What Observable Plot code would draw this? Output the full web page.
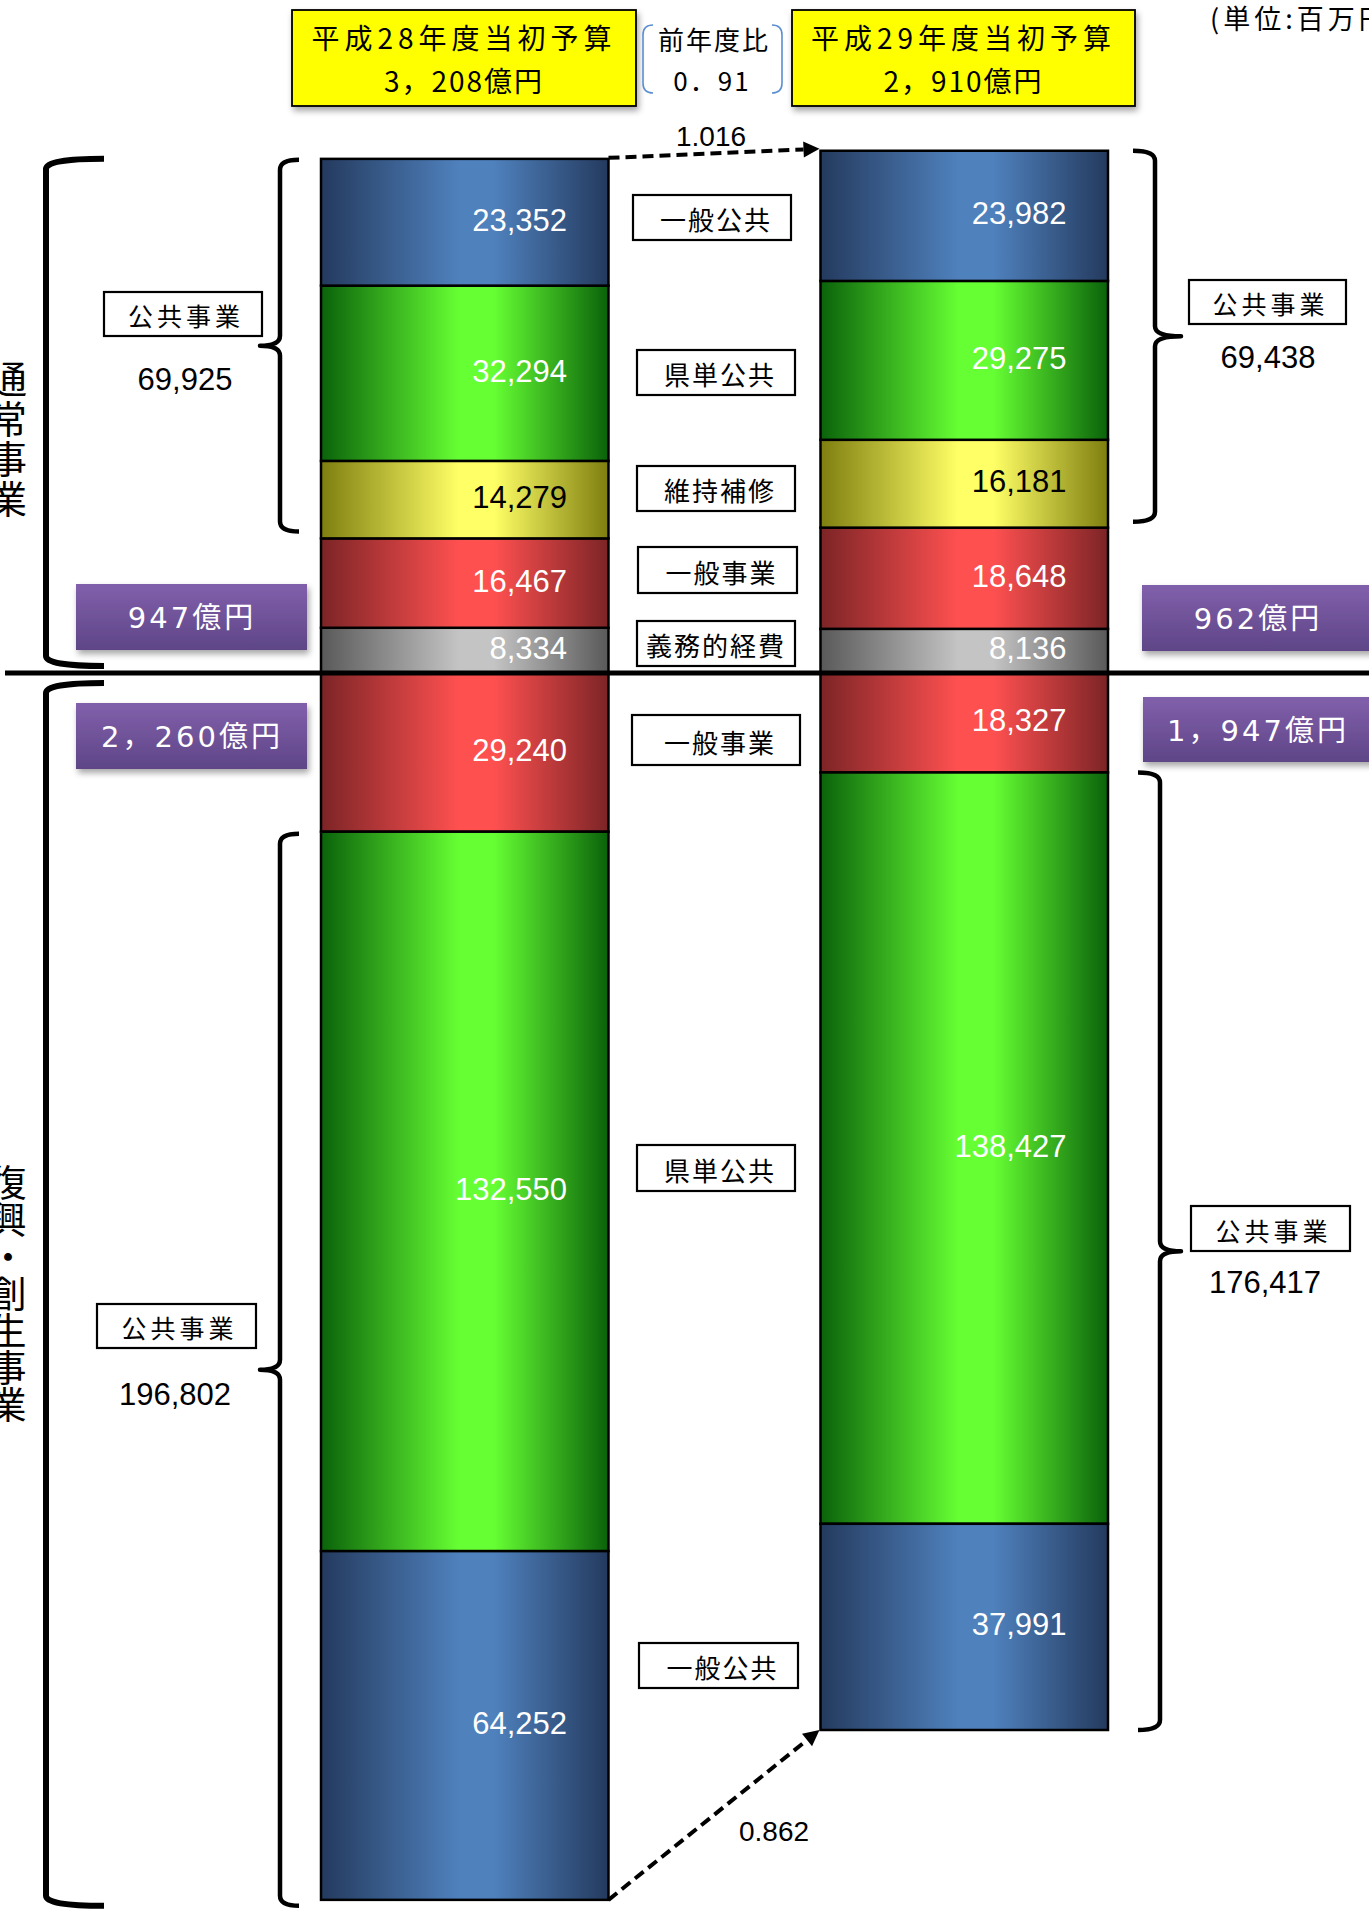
<!DOCTYPE html>
<html><head><meta charset="utf-8">
<script src="https://cdn.jsdelivr.net/npm/d3@7"></script>
<script src="https://cdn.jsdelivr.net/npm/@observablehq/plot@0.6"></script>
<style>
html,body{margin:0;padding:0;background:#fff;overflow:hidden;}
#chart svg{display:block;max-width:none;}
</style></head><body><div id="chart"></div>
<script>
// ---- data (百万円) ----
const years = ["平成28年度", "平成29年度"];
const upperCategories = ["義務的経費", "一般事業", "維持補修", "県単公共", "一般公共"]; // from the centre line upward
const upperH28 = [8334, 16467, 14279, 32294, 23352];
const upperH29 = [8136, 18648, 16181, 29275, 23982];
const lowerCategories = ["一般事業", "県単公共", "一般公共"]; // from the centre line downward
const lowerH28 = [29240, 132550, 64252];
const lowerH29 = [18327, 138427, 37991];
const sectionNames = ["通常事業", "復興・創生事業"];
const titleLines = [["平成28年度当初予算", "3，208億円"], ["平成29年度当初予算", "2，910億円"]];
const yoyLines = ["前年度比", "0．91"];
const ratioLabels = ["1.016", "0.862"];
const sectionTotals = [["947億円", "2，260億円"], ["962億円", "1，947億円"]];
const publicWorksName = "公共事業";
const publicWorksTotals = [["69,925", "196,802"], ["69,438", "176,417"]];
const unitLabel = "(単位:百万円)";

// ---- table ----
const rows = [];
[[upperH28, lowerH28], [upperH29, lowerH29]].forEach(([up, lo], i) => {
  up.forEach((v, j) => rows.push({year: years[i], cat: upperCategories[j], part: "upper", value: v}));
  lo.forEach((v, j) => rows.push({year: years[i], cat: lowerCategories[j], part: "lower", value: -v}));
});
const fillOf = {"一般公共": "url(#g-blue)", "県単公共": "url(#g-green)", "維持補修": "url(#g-yellow)", "一般事業": "url(#g-red)", "義務的経費": "url(#g-gray)"};
const fmt = d3.format(",");
const JP = "'Noto Sans CJK JP', 'Noto Sans', sans-serif";
const NUM = "'Liberation Sans', Arial, sans-serif";

const W = 1369, H = 1914;
const mL = 321, mR = 261, padIn = 0.4244;
const bw = (W - mL - mR) * (1 - padIn) / (2 - padIn);

const chart = Plot.plot({
  width: W, height: H,
  marginLeft: mL, marginRight: mR, marginTop: 0, marginBottom: 0,
  x: {domain: years, paddingInner: padIn, paddingOuter: 0, round: false, axis: null},
  y: {domain: [-228646, 123996], axis: null},
  marks: [
    Plot.barY(rows, {x: "year", y: "value", fill: d => fillOf[d.cat], stroke: "black", strokeWidth: 2.5}),
    Plot.text(rows, Plot.stackY({
      x: "year", y: "value",
      text: d => fmt(Math.abs(d.value)),
      fill: d => d.cat === "維持補修" ? "black" : "white",
      textAnchor: "end", dx: bw / 2 - 42, dy: -2, fontSize: 31, fontFamily: NUM
    }))
  ]
});
document.getElementById("chart").appendChild(chart);

const svg = d3.select(chart);
const xs = chart.scale("x"), ys = chart.scale("y");
const X = k => xs.apply(k);
const Y = v => ys.apply(v);

// ---- defs ----
const defs = svg.insert("defs", ":first-child");
const grads = {
  "g-blue": ["#243a5e", "#4f81bd"],
  "g-green": ["#0a620a", "#66ff33"],
  "g-yellow": ["#7e7e10", "#ffff66"],
  "g-red": ["#7c2426", "#ff5050"],
  "g-gray": ["#595959", "#c4c4c4"]
};
for (const [id, [dark, bright]] of Object.entries(grads)) {
  const g = defs.append("linearGradient").attr("id", id).attr("x1", 0).attr("x2", 1).attr("y1", 0).attr("y2", 0);
  g.append("stop").attr("offset", "0%").attr("stop-color", dark);
  g.append("stop").attr("offset", "48%").attr("stop-color", bright);
  g.append("stop").attr("offset", "60%").attr("stop-color", bright);
  g.append("stop").attr("offset", "100%").attr("stop-color", dark);
}
const pg = defs.append("linearGradient").attr("id", "g-purple").attr("x1", 0).attr("x2", 0).attr("y1", 0).attr("y2", 1);
pg.append("stop").attr("offset", "0%").attr("stop-color", "#8160ab");
pg.append("stop").attr("offset", "100%").attr("stop-color", "#5e4587");
const sh = defs.append("filter").attr("id", "shadow").attr("x", "-10%").attr("y", "-10%").attr("width", "130%").attr("height", "150%");
sh.append("feDropShadow").attr("dx", 2).attr("dy", 4).attr("stdDeviation", 3).attr("flood-color", "#000").attr("flood-opacity", 0.35);

const ann = svg.append("g");
function txt(x, y, s, o = {}) {
  return ann.append("text").attr("x", x).attr("y", y).text(s)
    .attr("text-anchor", o.anchor || "middle").attr("dominant-baseline", "central")
    .attr("font-family", o.family || JP).attr("font-size", o.size || 26)
    .attr("fill", o.fill || "black").attr("letter-spacing", o.ls || 0)
    .attr("font-weight", o.weight || "normal");
}
function box(x1, y1, x2, y2, o = {}) {
  return ann.append("rect").attr("x", x1).attr("y", y1).attr("width", x2 - x1).attr("height", y2 - y1)
    .attr("fill", o.fill || "white").attr("stroke", o.stroke === undefined ? "black" : o.stroke)
    .attr("stroke-width", o.sw || 2.2).attr("filter", o.shadow ? "url(#shadow)" : null);
}

// ---- centre divider ----
ann.append("line").attr("x1", 5).attr("x2", W + 5).attr("y1", Y(0)).attr("y2", Y(0))
  .attr("stroke", "black").attr("stroke-width", 5);

// ---- header boxes ----
const titleBoxes = [[292, 10, 636, 106], [792, 10, 1135, 106]];
titleBoxes.forEach(([x1, y1, x2, y2], i) => {
  box(x1, y1, x2, y2, {fill: "#ffff00", sw: 1.8, shadow: true});
  txt((x1 + x2) / 2, 37, titleLines[i][0], {size: 28, ls: 5});
  txt((x1 + x2) / 2, 80, titleLines[i][1], {size: 28, ls: 2});
});
txt(714, 38, yoyLines[0], {size: 26, ls: 2});
txt(712, 79, yoyLines[1], {size: 26, ls: 2});
ann.append("path").attr("d", "M653,25 Q643,25 643,35 L643,83 Q643,93 653,93")
  .attr("fill", "none").attr("stroke", "#5b8fd0").attr("stroke-width", 1.6);
ann.append("path").attr("d", "M772,25 Q782,25 782,35 L782,83 Q782,93 772,93")
  .attr("fill", "none").attr("stroke", "#5b8fd0").attr("stroke-width", 1.6);
txt(1210, 17, unitLabel, {anchor: "start", size: 27, ls: 4});

// ---- middle category labels ----
const midLabels = [
  ["一般公共", 633, 195, 791, 240],
  ["県単公共", 637, 350, 795, 395],
  ["維持補修", 637, 466, 795, 511],
  ["一般事業", 638, 547, 797, 593],
  ["義務的経費", 637, 621, 795, 666],
  ["一般事業", 632, 715, 800, 765],
  ["県単公共", 637, 1145, 795, 1191],
  ["一般公共", 639, 1643, 798, 1688]
];
midLabels.forEach(([s, x1, y1, x2, y2]) => {
  box(x1, y1, x2, y2);
  txt((x1 + x2) / 2 + (s.length === 4 ? 4 : 0), (y1 + y2) / 2 + 1, s, {size: 26, ls: 2});
});

// ---- dashed ratio arrows ----
const xR28 = X(years[0]) + bw, xL29 = X(years[1]);
const sumU = a => d3.sum(a);
function arrow(x1, y1, x2, y2) {
  const a = Math.atan2(y2 - y1, x2 - x1), L = 16, Wd = 8;
  const bx = x2 - L * Math.cos(a), by = y2 - L * Math.sin(a);
  ann.append("line").attr("x1", x1).attr("y1", y1).attr("x2", bx).attr("y2", by)
    .attr("stroke", "black").attr("stroke-width", 4).attr("stroke-dasharray", "11,6");
  ann.append("path").attr("d", `M${x2},${y2} L${bx - Wd * Math.sin(a)},${by + Wd * Math.cos(a)} L${bx + Wd * Math.sin(a)},${by - Wd * Math.cos(a)} Z`)
    .attr("fill", "black");
}
arrow(xR28, Y(sumU(upperH28)) - 1, xL29 - 1, Y(sumU(upperH29)) - 2);
arrow(xR28, Y(-sumU(lowerH28)), xL29 - 1, Y(-sumU(lowerH29)));
txt(711, 136, ratioLabels[0], {family: NUM, size: 28});
txt(774, 1831, ratioLabels[1], {family: NUM, size: 28});

// ---- brackets ----
function brace(vx, ax, tx, yt, yb, sw) {
  const r = 10, ym = (yt + yb) / 2;
  let d = `M${ax},${yt} Q${vx},${yt} ${vx},${yt + r} `;
  if (tx !== null) d += `L${vx},${ym - r} Q${vx},${ym} ${tx},${ym} Q${vx},${ym} ${vx},${ym + r} `;
  d += `L${vx},${yb - r} Q${vx},${yb} ${ax},${yb}`;
  ann.append("path").attr("d", d).attr("fill", "none").attr("stroke", "black")
    .attr("stroke-width", sw).attr("stroke-linejoin", "round");
}
const pubUp28 = d3.sum(upperH28.slice(2));
const pubUp29 = d3.sum(upperH29.slice(2));
// outer section brackets (left)
brace(46, 104, null, Y(sumU(upperH28)), Y(0) - 7, 6);
brace(46, 104, null, Y(0) + 10, Y(-sumU(lowerH28)) + 6, 6);
// public works brackets
brace(280, 299, 260, Y(sumU(upperH28)) + 1, Y(sumU(upperH28) - pubUp28) - 7, 4.5);
brace(280, 299, 260, Y(-lowerH28[0]) + 2, Y(-sumU(lowerH28)) + 6, 4.5);
brace(1155, 1133, 1181, Y(sumU(upperH29)), Y(sumU(upperH29) - pubUp29) - 6, 4.5);
brace(1160, 1138, 1181, Y(-lowerH29[0]), Y(-sumU(lowerH29)), 4.5);

// public works labels
const pwLayout = [
  [[104, 292, 262, 336], [185, 379]],
  [[97, 1304, 256, 1348], [175, 1394]],
  [[1189, 280, 1346, 324], [1268, 357]],
  [[1191, 1206, 1350, 1251], [1265, 1282]]
];
const pwTexts = [publicWorksTotals[0][0], publicWorksTotals[0][1], publicWorksTotals[1][0], publicWorksTotals[1][1]];
pwLayout.forEach(([[x1, y1, x2, y2], [tx, ty]], i) => {
  box(x1, y1, x2, y2);
  txt((x1 + x2) / 2 + 3, (y1 + y2) / 2 + 1, publicWorksName, {size: 25, ls: 4});
  txt(tx, ty, pwTexts[i], {family: NUM, size: 31});
});

// ---- section totals (purple) ----
const purpleLayout = [[76, 584, 307, 650], [76, 703, 307, 769], [1142, 585, 1374, 651], [1143, 697, 1375, 762]];
const purpleTexts = [sectionTotals[0][0], sectionTotals[0][1], sectionTotals[1][0], sectionTotals[1][1]];
purpleLayout.forEach(([x1, y1, x2, y2], i) => {
  box(x1, y1, x2, y2, {fill: "url(#g-purple)", stroke: "none", shadow: true});
  txt(i < 2 ? 192 : 1258, (y1 + y2) / 2 + 1, purpleTexts[i], {size: 29, ls: 3, fill: "white", family: "'DejaVu Sans', " + JP});
});

// ---- vertical section titles (single vertical text each) ----
function vtext(x, yTop, s, size, ls) {
  ann.append("text").attr("x", x).attr("y", yTop).text(s)
    .attr("font-family", JP).attr("font-size", size).attr("letter-spacing", ls)
    .attr("text-anchor", "start")
    .style("writing-mode", "vertical-rl").style("text-orientation", "upright");
}
vtext(8, 360, sectionNames[0], 38, 2);
vtext(8, 1164, sectionNames[1], 37, 0);
</script></body></html>
